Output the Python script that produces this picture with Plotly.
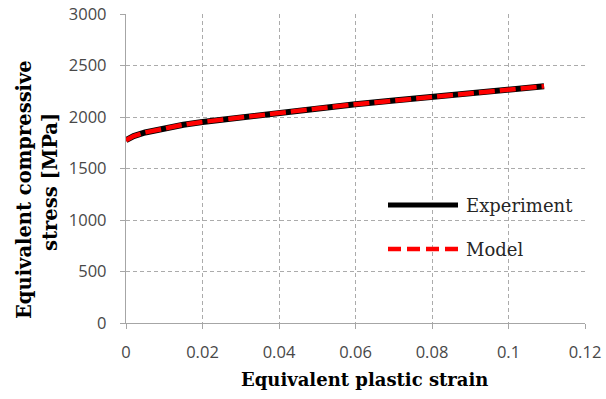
import plotly.graph_objects as go

# Equivalent plastic strain and stress [MPa]
strain = [0.0, 0.002, 0.005, 0.01, 0.015, 0.02, 0.03, 0.04, 0.05,
          0.06, 0.07, 0.08, 0.09, 0.10, 0.1093]
stress_experiment = [1775, 1815, 1850, 1890, 1925, 1952, 1998, 2040, 2082,
                     2123, 2160, 2195, 2230, 2265, 2298]
stress_model = [1775, 1815, 1850, 1890, 1925, 1952, 1998, 2040, 2082,
                2123, 2160, 2195, 2230, 2265, 2298]

series_names = ["Experiment", "Model"]
x_ticks = [0, 0.02, 0.04, 0.06, 0.08, 0.1, 0.12]
x_tick_text = ["0", "0.02", "0.04", "0.06", "0.08", "0.1", "0.12"]
y_ticks = [0, 500, 1000, 1500, 2000, 2500, 3000]

W, H = 606, 399
L, R, T, B = 126, 21, 14, 76
pw, ph = W - L - R, H - T - B


def px(x):
    return (x - L) / pw


def py(y):
    return (H - B - y) / ph


fig = go.Figure()
fig.add_trace(go.Scatter(x=strain, y=stress_experiment, mode="lines",
                         name=series_names[0], showlegend=False,
                         line=dict(color="black", width=6)))
fig.add_trace(go.Scatter(x=strain, y=stress_model, mode="lines",
                         name=series_names[1], showlegend=False,
                         line=dict(color="#ff0000", width=4.5, dash="16px,5px")))

axis_style = dict(showgrid=True, gridcolor="#ababab", gridwidth=1, griddash="4px,3px",
                  showline=True, linecolor="#a6a6a6", linewidth=1.3, zeroline=False,
                  automargin=False,
                  ticks="outside", ticklen=5, tickcolor="#a6a6a6", tickwidth=1,
                  tickfont=dict(family="Open Sans", size=16.5, color="#484848"))

fig.update_xaxes(range=[0, 0.12], tickvals=x_ticks, ticktext=x_tick_text,
                 ticklabelstandoff=9, **axis_style)
fig.update_yaxes(range=[0, 3000], tickvals=y_ticks, ticklabelstandoff=10, **axis_style)

x_title_font = dict(family="DejaVu Serif", size=18, color="black")
y_title_font = dict(family="DejaVu Serif", size=19.5, color="black")
legend_font = dict(family="DejaVu Serif", size=18, color="#262626")

annotations = [
    dict(text="<b>Equivalent plastic strain</b>", x=px(364), y=py(379),
         xref="paper", yref="paper", showarrow=False, font=x_title_font,
         xanchor="center", yanchor="middle"),
    dict(text="<b>Equivalent compressive</b>", x=px(24), y=py(190),
         xref="paper", yref="paper", showarrow=False, font=y_title_font,
         textangle=-90, xanchor="center", yanchor="middle"),
    dict(text="<b>stress [MPa]</b>", x=px(50), y=py(182),
         xref="paper", yref="paper", showarrow=False, font=y_title_font,
         textangle=-90, xanchor="center", yanchor="middle"),
    dict(text=series_names[0], x=px(464), y=py(205), xref="paper", yref="paper",
         showarrow=False, font=legend_font, xanchor="left", yanchor="middle"),
    dict(text=series_names[1], x=px(464), y=py(249), xref="paper", yref="paper",
         showarrow=False, font=legend_font, xanchor="left", yanchor="middle"),
]

shapes = [
    dict(type="line", xref="paper", yref="paper", x0=px(388), x1=px(458),
         y0=py(205), y1=py(205), line=dict(color="black", width=5)),
    dict(type="line", xref="paper", yref="paper", x0=px(388), x1=px(458),
         y0=py(249), y1=py(249), line=dict(color="#ff0000", width=4.5, dash="13px,6px")),
]

fig.update_layout(width=W, height=H, margin=dict(l=L, r=R, t=T, b=B),
                  paper_bgcolor="white", plot_bgcolor="white",
                  annotations=annotations, shapes=shapes, showlegend=False)

fig.write_html("out.html")
